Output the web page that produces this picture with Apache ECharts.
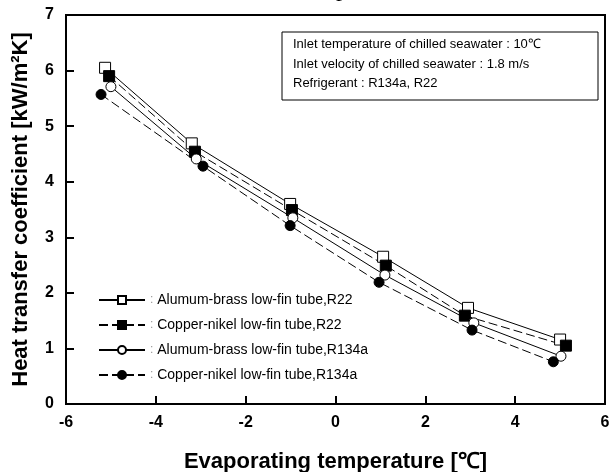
<!DOCTYPE html>
<html>
<head>
<meta charset="utf-8">
<script src="https://cdn.jsdelivr.net/npm/echarts@6/dist/echarts.min.js"></script>
<style>
  html, body { margin: 0; padding: 0; background: #fff; }
  #chart { width: 610px; height: 472px; }
</style>
</head>
<body>
<div id="chart"></div>
<script>
  // Datos (temperatura de evaporacion, coeficiente)
  const seriesNames = [
    "Alumum-brass low-fin tube,R22",
    "Copper-nikel low-fin tube,R22",
    "Alumum-brass low-fin tube,R134a",
    "Copper-nikel low-fin tube,R134a",
  ];
  const abR22 = [[-5.13, 6.05], [-3.2, 4.69], [-1.01, 3.6], [1.06, 2.65], [2.95, 1.73], [5.0, 1.16]];
  const cnR22 = [[-5.04, 5.9], [-3.13, 4.54], [-0.97, 3.49], [1.12, 2.49], [2.88, 1.59], [5.13, 1.05]];
  const abR134a = [[-5.0, 5.71], [-3.1, 4.41], [-0.95, 3.35], [1.1, 2.32], [3.08, 1.46], [5.02, 0.86]];
  const cnR134a = [[-5.22, 5.57], [-2.95, 4.28], [-1.01, 3.21], [0.97, 2.19], [3.04, 1.33], [4.85, 0.76]];
  const xTicks = [-6, -4, -2, 0, 2, 4, 6];
  const yTicks = [0, 1, 2, 3, 4, 5, 6, 7];

  const infoLines = [
    "Inlet temperature of chilled seawater : 10℃",
    "Inlet velocity of chilled seawater : 1.8 m/s",
    "Refrigerant : R134a, R22",
  ];

  var myChart = echarts.init(document.getElementById("chart"));

  const makeSeries = (name, data, symbol, filled, dashed) => ({
    name: name,
    type: "line",
    data: data,
    symbol: symbol,
    symbolSize: symbol === "rect" ? 11 : 10,
    showSymbol: true,
    lineStyle: { color: "#000", width: 1, type: dashed ? [9, 4] : "solid" },
    itemStyle: { color: filled ? "#000" : "#fff", borderColor: "#000", borderWidth: 1 },
    z: 3,
  });

  var option = {
    animation: false,
    grid: {
      left: 66, right: 5, top: 15, bottom: 68,
      outerBoundsMode: "none",
      show: true, borderColor: "#000", borderWidth: 2,
    },
    xAxis: {
      type: "value",
      min: xTicks[0],
      max: xTicks[xTicks.length - 1],
      interval: 2,
      name: "Evaporating temperature [℃]",
      nameLocation: "middle",
      nameGap: 47,
      nameTextStyle: { fontFamily: "Liberation Sans", fontWeight: "bold", fontSize: 22, color: "#000" },
      axisLine: { onZero: false, lineStyle: { color: "#000", width: 2 } },
      axisTick: { inside: true, length: 8, lineStyle: { color: "#000", width: 2 } },
      axisLabel: { fontFamily: "Liberation Sans", fontWeight: "bold", fontSize: 16, color: "#000", margin: 11 },
      splitLine: { show: false },
    },
    yAxis: {
      type: "value",
      min: yTicks[0],
      max: yTicks[yTicks.length - 1],
      interval: 1,
      name: "Heat transfer coefficient [kW/m²K]",
      nameLocation: "middle",
      nameGap: 34,
      nameTextStyle: { fontFamily: "Liberation Sans", fontWeight: "bold", fontSize: 22, color: "#000" },
      axisLine: { onZero: false, lineStyle: { color: "#000", width: 2 } },
      axisTick: { inside: true, length: 8, lineStyle: { color: "#000", width: 2 } },
      axisLabel: { fontFamily: "Liberation Sans", fontWeight: "bold", fontSize: 16, color: "#000", margin: 12 },
      splitLine: { show: false },
    },
    legend: {
      orient: "vertical",
      left: 93,
      top: 288,
      itemWidth: 46,
      itemHeight: 10,
      itemGap: 11,
      selectedMode: false,
      data: seriesNames,
      formatter: (n) => "{c|:} " + n,
      textStyle: {
        fontFamily: "Liberation Sans",
        fontSize: 14,
        color: "#000",
        rich: { c: { color: "#999", fontSize: 12 } },
      },
    },
    graphic: [
      {
        type: "rect",
        shape: { x: 282, y: 32, width: 316, height: 68 },
        style: { fill: "#fff", stroke: "#000", lineWidth: 1 },
        z: 10,
      },
      ...infoLines.map((t, i) => ({
        type: "text",
        left: 293,
        top: 38 + i * 19.5,
        style: { text: t, fontFamily: "Liberation Sans", fontSize: 13, fill: "#000" },
        z: 11,
      })),
      {
        type: "text",
        left: 336,
        top: -22,
        style: { text: "p", fontFamily: "Liberation Serif", fontSize: 24, fill: "#000" },
      },
    ],
    series: [
      makeSeries(seriesNames[0], abR22, "rect", false, false),
      makeSeries(seriesNames[1], cnR22, "rect", true, true),
      makeSeries(seriesNames[2], abR134a, "circle", false, false),
      makeSeries(seriesNames[3], cnR134a, "circle", true, true),
    ],
  };

  myChart.setOption(option);
</script>
</body>
</html>
